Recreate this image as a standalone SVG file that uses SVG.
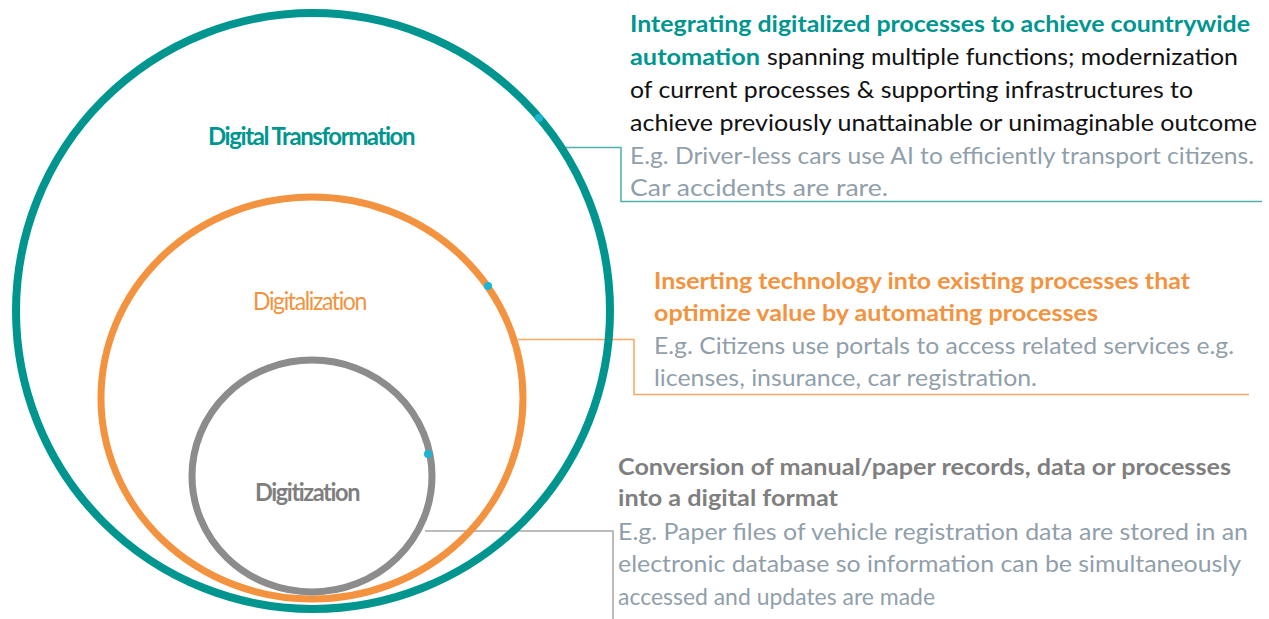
<svg xmlns="http://www.w3.org/2000/svg" width="1269" height="619" viewBox="0 0 1269 619">
<style>
text{font-family:Lato,"Open Sans","Liberation Sans",sans-serif;font-size:23px}
.b{font-weight:bold}
.teal{fill:#00968F}
.org{fill:#F39340}
.gry{fill:#7F7F7F}
.eg{fill:#919FAB}
.blk{fill:#111111}
.lbl{font-size:25px;letter-spacing:-1.5px}
.ring{fill:none}
.dot{fill:#1BB6D1}
.conn{fill:none;stroke-width:1.5}
</style>
<rect width="1269" height="619" fill="#ffffff"/>
<g id="connectors">
<polyline class="conn" stroke="#4FAFAA" points="565,147.5 621,147.5 621,201.5 1262,201.5"/>
<polyline class="conn" stroke="#F5A766" points="518,339.5 634,339.5 634,394.5 1249,394.5"/>
<polyline class="conn" stroke="#A6A6A6" points="425,531 613,531 613,619"/>
</g>
<g id="digital-transformation">
<ellipse class="ring" cx="313" cy="311" rx="297" ry="298" stroke="#00968F" stroke-width="8"/>
<circle class="dot" cx="539" cy="118" r="4"/>
<text class="lbl b teal" x="208" y="145" textLength="206" lengthAdjust="spacingAndGlyphs">Digital Transformation</text>
</g>
<g id="digitalization">
<ellipse class="ring" cx="312" cy="398" rx="211" ry="201" stroke="#F39340" stroke-width="7"/>
<circle class="dot" cx="488" cy="286" r="4"/>
<text class="lbl org" x="253" y="310" textLength="113" lengthAdjust="spacingAndGlyphs">Digitalization</text>
</g>
<g id="digitization">
<ellipse class="ring" cx="312" cy="476" rx="120" ry="116" stroke="#8C8C8C" stroke-width="7"/>
<circle class="dot" cx="428" cy="454" r="4"/>
<text class="lbl b gry" x="255" y="501" textLength="104" lengthAdjust="spacingAndGlyphs">Digitization</text>
</g>
<g id="desc-transformation">
<text class="b teal" x="630" y="32" textLength="620" lengthAdjust="spacingAndGlyphs">Integrating digitalized processes to achieve countrywide</text>
<text class="b teal" x="630" y="65" textLength="130" lengthAdjust="spacingAndGlyphs">automation</text>
<text class="blk" x="767" y="65" textLength="471" lengthAdjust="spacingAndGlyphs">spanning multiple functions; modernization</text>
<text class="blk" x="630" y="98" textLength="563" lengthAdjust="spacingAndGlyphs">of current processes &amp; supporting infrastructures to</text>
<text class="blk" x="630" y="131" textLength="627" lengthAdjust="spacingAndGlyphs">achieve previously unattainable or unimaginable outcome</text>
<text class="eg" x="630" y="164" textLength="624" lengthAdjust="spacingAndGlyphs">E.g. Driver-less cars use AI to efficiently transport citizens.</text>
<text class="eg" x="630" y="196" textLength="258" lengthAdjust="spacingAndGlyphs">Car accidents are rare.</text>
</g>
<g id="desc-digitalization">
<text class="b org" x="654" y="289" textLength="536" lengthAdjust="spacingAndGlyphs">Inserting technology into existing processes that</text>
<text class="b org" x="654" y="321" textLength="444" lengthAdjust="spacingAndGlyphs">optimize value by automating processes</text>
<text class="eg" x="654" y="354" textLength="580" lengthAdjust="spacingAndGlyphs">E.g. Citizens use portals to access related services e.g.</text>
<text class="eg" x="654" y="386" textLength="383" lengthAdjust="spacingAndGlyphs">licenses, insurance, car registration.</text>
</g>
<g id="desc-digitization">
<text class="b gry" x="618" y="475" textLength="613" lengthAdjust="spacingAndGlyphs">Conversion of manual/paper records, data or processes</text>
<text class="b gry" x="618" y="506" textLength="220" lengthAdjust="spacingAndGlyphs">into a digital format</text>
<text class="eg" x="618" y="540" textLength="630" lengthAdjust="spacingAndGlyphs">E.g. Paper files of vehicle registration data are stored in an</text>
<text class="eg" x="618" y="572" textLength="623" lengthAdjust="spacingAndGlyphs">electronic database so information can be simultaneously</text>
<text class="eg" x="618" y="605" textLength="317" lengthAdjust="spacingAndGlyphs">accessed and updates are made</text>
</g>
</svg>
